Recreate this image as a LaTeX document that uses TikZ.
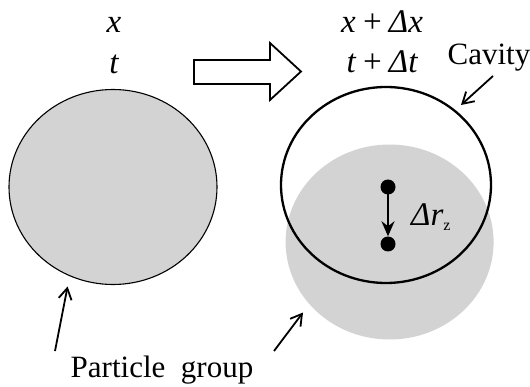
\documentclass[tikz,border=0pt]{standalone}
\usepackage{fontspec}
\setmainfont{Liberation Serif}
\usetikzlibrary{arrows.meta}
\definecolor{pgray}{RGB}{211,211,211}
\tikzset{
  lbl/.style={inner sep=0pt, font=\fontsize{31}{36}\selectfont},
  mth/.style={inner sep=0pt, font=\fontsize{33}{38}\selectfont\itshape},
  pointer/.style={line width=1.8pt, -{Straight Barb[length=11pt,width=13pt,line width=1.8pt]}},
  dot/.style={circle, fill=black, inner sep=0pt, minimum size=15pt},
}
\begin{document}
\begin{tikzpicture}[x=1pt,y=-1pt]
\useasboundingbox (0,0) rectangle (530,387);
% left particle group
\draw[fill=pgray, line width=1.1pt] (113,187) ellipse [x radius=104, y radius=97.5];
% right particle group
\fill[pgray] (389.6,242) ellipse [x radius=104, y radius=97.5];
% cavity
\draw[line width=2.3pt] (386,185) ellipse [x radius=105, y radius=98];
% hollow arrow
\draw[line width=1.8pt, fill=white] (194,60) -- (270,60) -- (270,43) -- (301,71.5) -- (270,100) -- (270,84) -- (194,84) -- cycle;
% texts
\node[mth] (x) at (114,25) {x};
\node[mth] (t) at (114,64) {t};
\node[mth] (xdx) at (382,22) {x\,+\,Δx};
\node[mth] (tdt) at (382,62) {t\,+\,Δt};
\node[lbl] (cav) at (489,58) {Cavity};
\node[lbl] (pg) at (162,370) {Particle\ \ group};
% displacement
\node[dot] (d1) at (388,187) {};
\node[dot] (d2) at (388,244) {};
\draw[line width=2.2pt, -{Stealth[length=15pt,width=13pt]}] (d1.center) -- (d2.north);
\node[mth, anchor=west] (dr) at (411,217) {Δr\raisebox{-0.3ex}{\fontsize{16}{18}\selectfont\upshape z}};
% pointers
\coordinate (c1) at (493,76);
\coordinate (c2) at (461,105);
\draw[pointer] (c1) -- (c2);
\coordinate (p1) at (55,351);
\coordinate (p2) at (67.6,286.5);
\draw[pointer] (p1) -- (p2);
\coordinate (q1) at (274,351);
\coordinate (q2) at (303,312.5);
\draw[pointer] (q1) -- (q2);
\end{tikzpicture}
\end{document}
